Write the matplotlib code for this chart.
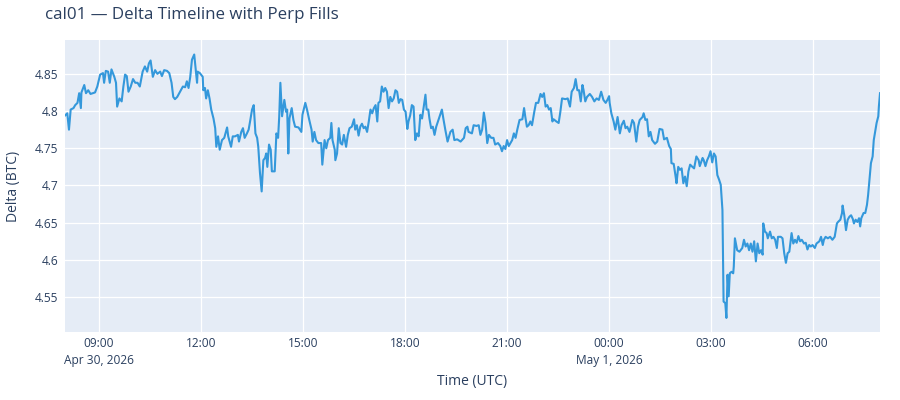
import matplotlib
matplotlib.use("Agg")
import matplotlib.pyplot as plt
import matplotlib.dates as mdates
import pandas as pd

plt.rcParams["font.family"] = ["Open Sans", "DejaVu Sans"]

# minutes after 2026-04-30 08:00 UTC
minutes = [
    0, 4, 7, 10, 15, 18, 22, 25, 28, 29, 34, 37, 41, 45, 53, 57, 62, 67, 69, 72,
    76, 79, 82, 87, 90, 92, 96, 100, 103, 106, 109, 112, 116, 120, 124, 128, 132, 137, 141, 145,
    148, 151, 155, 159, 163, 168, 171, 175, 180, 184, 188, 191, 194, 198, 203, 208, 212, 215, 218, 221,
    224, 228, 233, 234, 238, 243, 244, 247, 249, 252, 255, 258, 262, 265, 267, 270, 273, 277, 281, 286,
    288, 293, 296, 300, 305, 307, 311, 314, 317, 321, 324, 327, 330, 333, 336, 339, 341, 344, 347, 350,
    353, 355, 357, 360, 363, 365, 370, 373, 376, 378, 380, 383, 385, 387, 390, 392, 394, 396, 400, 403,
    406, 412, 417, 419, 424, 427, 431, 435, 437, 440, 443, 447, 452, 454, 458, 461, 464, 468, 470, 472,
    476, 477, 480, 483, 486, 489, 492, 496, 499, 502, 506, 510, 512, 515, 518, 521, 524, 527, 530, 533,
    536, 539, 542, 545, 548, 551, 553, 556, 559, 562, 565, 568, 571, 574, 577, 580, 583, 586, 589, 592,
    595, 598, 601, 604, 606, 609, 612, 615, 618, 621, 624, 627, 630, 633, 636, 638, 641, 643, 646, 649,
    652, 655, 658, 662, 665, 668, 671, 675, 680, 684, 687, 692, 698, 704, 707, 710, 712, 718, 721, 726,
    730, 733, 736, 739, 742, 745, 748, 752, 756, 759, 764, 768, 771, 774, 777, 780, 783, 786, 789, 792,
    795, 798, 802, 807, 810, 812, 815, 818, 821, 824, 828, 831, 835, 839, 842, 845, 848, 851, 854, 857,
    860, 862, 867, 871, 874, 877, 883, 887, 891, 894, 898, 901, 904, 907, 910, 913, 915, 918, 921, 926,
    930, 934, 938, 942, 946, 950, 954, 957, 960, 961, 964, 968, 971, 975, 979, 982, 986, 989, 992, 996,
    1001, 1004, 1008, 1011, 1014, 1019, 1021, 1024, 1027, 1030, 1033, 1036, 1041, 1045, 1049, 1054, 1057, 1062, 1066, 1069,
    1070, 1074, 1077, 1079, 1082, 1085, 1088, 1091, 1094, 1097, 1100, 1103, 1107, 1110, 1114, 1118, 1120, 1125, 1127, 1130,
    1133, 1136, 1139, 1142, 1145, 1148, 1151, 1154, 1157, 1160, 1161, 1162, 1165, 1167, 1169, 1171, 1173, 1176, 1179, 1180,
    1182, 1186, 1190, 1195, 1198, 1201, 1204, 1207, 1210, 1213, 1216, 1219, 1222, 1225, 1228, 1231, 1232, 1235, 1238, 1240,
    1244, 1247, 1250, 1253, 1256, 1258, 1263, 1266, 1269, 1272, 1275, 1278, 1282, 1285, 1288, 1291, 1294, 1297, 1300, 1304,
    1307, 1310, 1313, 1316, 1319, 1323, 1326, 1331, 1334, 1337, 1339, 1342, 1346, 1350, 1354, 1358, 1362, 1364, 1368, 1371,
    1372, 1375, 1378, 1381, 1384, 1387, 1390, 1392, 1395, 1398, 1401, 1403, 1405, 1409, 1412, 1415, 1417, 1420, 1422, 1425,
    1427, 1429, 1432, 1435, 1436, 1438,
]

delta_btc = [
    4.794, 4.797, 4.775, 4.802, 4.804, 4.808, 4.811, 4.824, 4.804, 4.825, 4.835, 4.824, 4.828, 4.823, 4.825, 4.833, 4.849, 4.851, 4.838, 4.854,
    4.853, 4.838, 4.856, 4.846, 4.838, 4.806, 4.817, 4.813, 4.833, 4.849, 4.847, 4.826, 4.833, 4.843, 4.838, 4.838, 4.833, 4.853, 4.860, 4.853,
    4.864, 4.868, 4.846, 4.855, 4.850, 4.853, 4.847, 4.855, 4.854, 4.851, 4.838, 4.819, 4.816, 4.819, 4.826, 4.833, 4.832, 4.840, 4.831, 4.846,
    4.869, 4.876, 4.838, 4.853, 4.851, 4.846, 4.828, 4.831, 4.817, 4.828, 4.817, 4.802, 4.790, 4.777, 4.752, 4.766, 4.748, 4.761, 4.764, 4.778,
    4.766, 4.752, 4.766, 4.766, 4.768, 4.759, 4.772, 4.777, 4.764, 4.770, 4.775, 4.788, 4.802, 4.808, 4.770, 4.764, 4.752, 4.717, 4.692, 4.734,
    4.737, 4.743, 4.725, 4.755, 4.748, 4.719, 4.719, 4.770, 4.764, 4.793, 4.838, 4.793, 4.804, 4.815, 4.799, 4.802, 4.743, 4.790, 4.804, 4.788,
    4.779, 4.778, 4.772, 4.795, 4.811, 4.802, 4.788, 4.775, 4.759, 4.772, 4.761, 4.757, 4.757, 4.728, 4.761, 4.750, 4.761, 4.764, 4.784, 4.761,
    4.748, 4.734, 4.743, 4.777, 4.757, 4.755, 4.768, 4.752, 4.768, 4.777, 4.779, 4.789, 4.775, 4.781, 4.767, 4.779, 4.783, 4.777, 4.779, 4.772,
    4.786, 4.802, 4.797, 4.804, 4.808, 4.786, 4.811, 4.813, 4.833, 4.826, 4.831, 4.826, 4.804, 4.819, 4.813, 4.817, 4.828, 4.826, 4.811, 4.816,
    4.815, 4.802, 4.799, 4.776, 4.786, 4.794, 4.808, 4.806, 4.761, 4.770, 4.766, 4.795, 4.790, 4.806, 4.822, 4.802, 4.802, 4.790, 4.777, 4.779,
    4.768, 4.779, 4.786, 4.795, 4.802, 4.788, 4.775, 4.759, 4.772, 4.775, 4.761, 4.762, 4.759, 4.764, 4.777, 4.779, 4.772, 4.770, 4.781, 4.780,
    4.781, 4.768, 4.775, 4.798, 4.784, 4.757, 4.768, 4.764, 4.764, 4.755, 4.757, 4.753, 4.746, 4.753, 4.749, 4.761, 4.753, 4.757, 4.761, 4.770,
    4.764, 4.775, 4.788, 4.789, 4.804, 4.793, 4.779, 4.781, 4.786, 4.781, 4.799, 4.811, 4.811, 4.823, 4.819, 4.824, 4.806, 4.808, 4.802, 4.804,
    4.786, 4.789, 4.786, 4.784, 4.799, 4.817, 4.816, 4.817, 4.806, 4.826, 4.831, 4.843, 4.828, 4.828, 4.813, 4.835, 4.828, 4.813, 4.819, 4.823,
    4.819, 4.813, 4.817, 4.815, 4.826, 4.815, 4.811, 4.815, 4.820, 4.811, 4.797, 4.786, 4.775, 4.792, 4.770, 4.781, 4.787, 4.777, 4.779, 4.772,
    4.788, 4.784, 4.759, 4.779, 4.788, 4.792, 4.797, 4.788, 4.789, 4.766, 4.772, 4.761, 4.756, 4.759, 4.776, 4.775, 4.762, 4.764, 4.753, 4.749,
    4.730, 4.729, 4.714, 4.703, 4.725, 4.721, 4.723, 4.703, 4.712, 4.699, 4.719, 4.728, 4.725, 4.723, 4.739, 4.734, 4.726, 4.737, 4.734, 4.726,
    4.734, 4.739, 4.746, 4.731, 4.743, 4.739, 4.714, 4.708, 4.701, 4.667, 4.600, 4.544, 4.542, 4.522, 4.580, 4.551, 4.582, 4.584, 4.582, 4.591,
    4.629, 4.613, 4.611, 4.616, 4.627, 4.618, 4.622, 4.613, 4.622, 4.611, 4.625, 4.598, 4.622, 4.609, 4.613, 4.607, 4.649, 4.638, 4.636, 4.629,
    4.638, 4.629, 4.631, 4.627, 4.616, 4.631, 4.631, 4.629, 4.609, 4.596, 4.609, 4.611, 4.636, 4.622, 4.627, 4.623, 4.632, 4.625, 4.627, 4.622,
    4.623, 4.614, 4.620, 4.618, 4.620, 4.616, 4.622, 4.625, 4.631, 4.620, 4.627, 4.631, 4.629, 4.631, 4.627, 4.631, 4.649, 4.651, 4.654, 4.663,
    4.673, 4.660, 4.640, 4.654, 4.658, 4.660, 4.655, 4.649, 4.654, 4.651, 4.656, 4.645, 4.656, 4.663, 4.663, 4.674, 4.687, 4.712, 4.730, 4.739,
    4.761, 4.770, 4.784, 4.793, 4.806, 4.824,
]

start = pd.Timestamp("2026-04-30 08:00")
y_ticks = [4.55, 4.6, 4.65, 4.7, 4.75, 4.8, 4.85]
tick_hours = [9, 12, 15, 18, 21, 24, 27, 30]

times = start + pd.to_timedelta(minutes, unit="m")

TEXT = "#2a3f5f"
fig = plt.figure(figsize=(9, 4), dpi=100, facecolor="white")
ax = fig.add_axes([65 / 900, 1 - 331.7 / 400, 815 / 900, 291.7 / 400])
ax.set_facecolor("#E5ECF6")

ax.plot(times, delta_btc, color="#3498db", linewidth=1.5, solid_joinstyle="round")

ax.set_xlim(times[0], times[-1])
ax.set_ylim(4.5035, 4.8955)

xt = [start + pd.Timedelta(hours=h - 8) for h in tick_hours]
xlabels = []
for t in xt:
    lab = t.strftime("%H:%M")
    if t.hour == 9 and t.day == 30:
        lab += "\nApr 30, 2026"
    elif t.hour == 0:
        lab += "\nMay 1, 2026"
    xlabels.append(lab)
ax.set_xticks(xt)
ax.set_xticklabels(xlabels, fontsize=8.6, color=TEXT, linespacing=1.35)
ax.set_yticks(y_ticks)
ax.set_yticklabels([f"{v:g}" for v in y_ticks], fontsize=8.6, color=TEXT)

ax.grid(True, color="white", linewidth=0.9)
ax.set_axisbelow(True)
ax.tick_params(length=0)
ax.tick_params(axis="x", pad=4)
ax.tick_params(axis="y", pad=5)
for s in ax.spines.values():
    s.set_visible(False)

fig.text(45 / 900, 1 - 15 / 400, "cal01 — Delta Timeline with Perp Fills",
         fontsize=12.2, color=TEXT, ha="left", va="center")
fig.text(472 / 900, 1 - 382 / 400, "Time (UTC)", fontsize=10, color=TEXT,
         ha="center", va="center")
fig.text(14 / 900, 1 - 186 / 400, "Delta (BTC)", fontsize=10, color=TEXT,
         ha="center", va="center", rotation=90)

fig.savefig("out.png", dpi=100, facecolor="white")
